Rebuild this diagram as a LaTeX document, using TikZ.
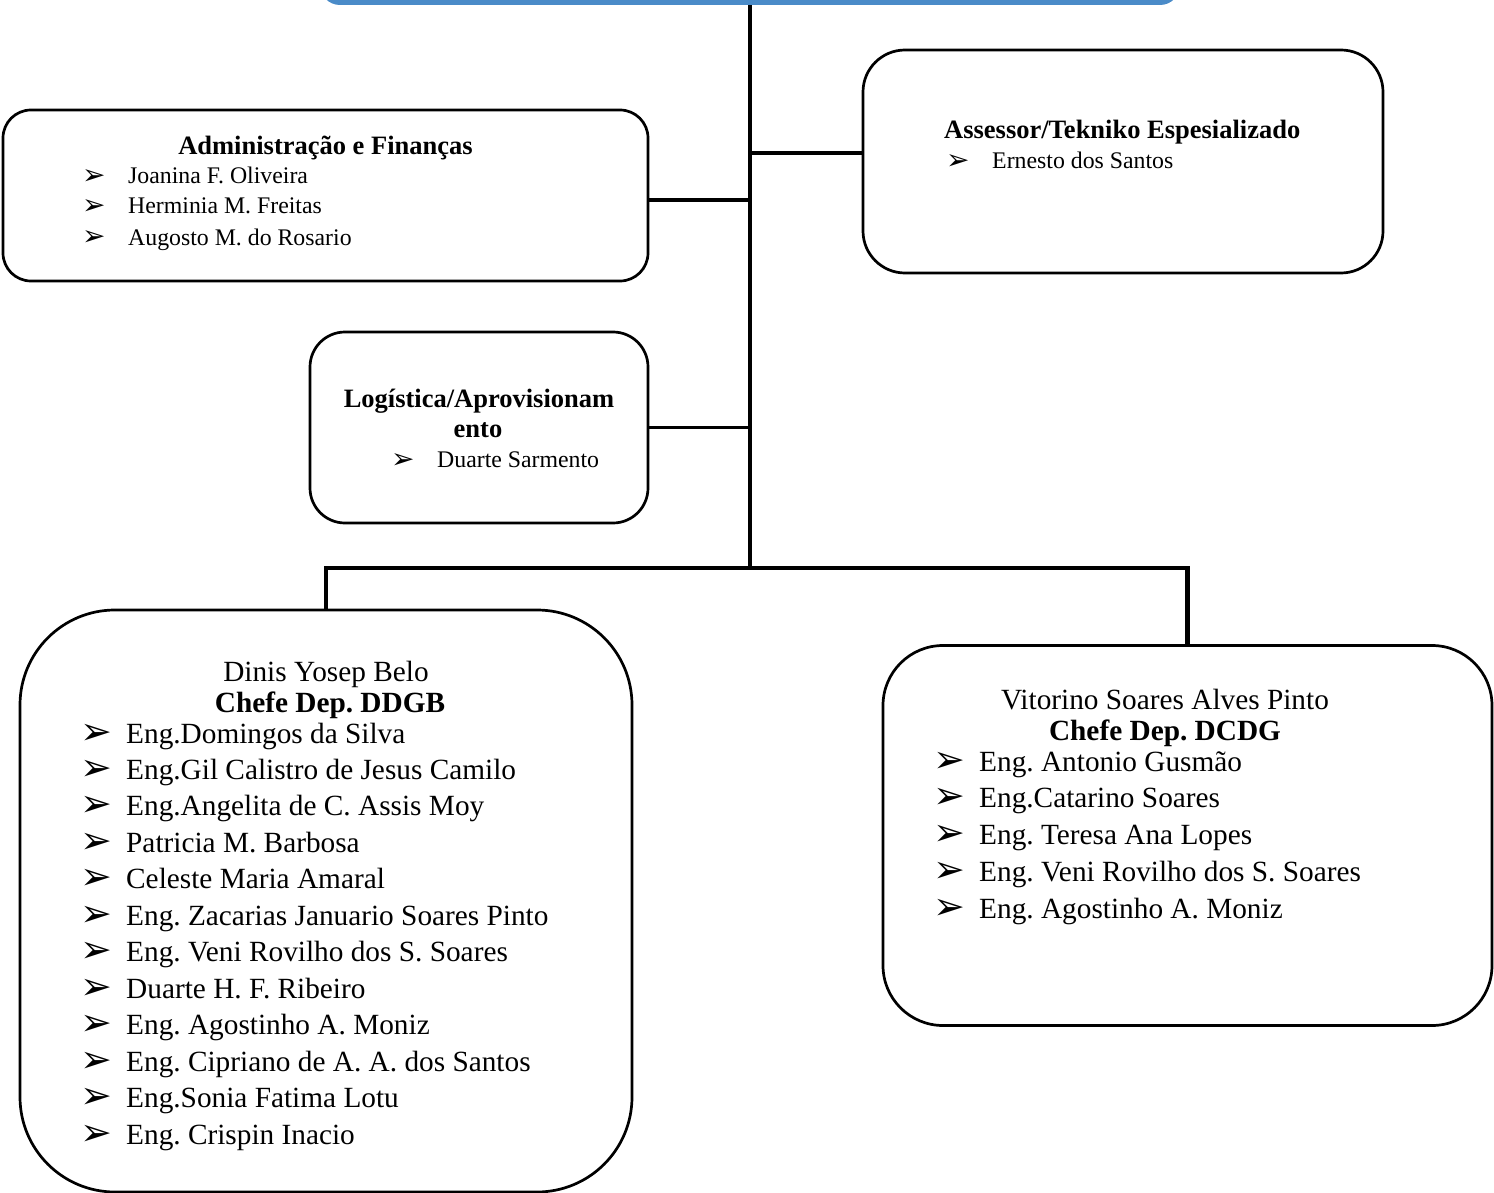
\documentclass[tikz,border=0pt]{standalone}
\usepackage{fontspec}
\setmainfont{Liberation Serif}
\newfontfamily\arrowfont{DejaVu Sans}
\usetikzlibrary{positioning}
\definecolor{dirblue}{RGB}{74,139,200}
\frenchspacing
\newcommand{\bigfont}{\fontsize{29.3}{36}\selectfont}
\newcommand{\smlfont}{\fontsize{23.8}{30}\selectfont}
\newcommand{\ttlfont}{\fontsize{26.5}{30}\selectfont\bfseries}
\newcommand{\bitem}{\makebox[46pt][l]{\raisebox{-1pt}{\arrowfont\fontsize{38}{38}\selectfont ➢}}}
\newcommand{\sitem}{\makebox[46pt][l]{\raisebox{-1pt}{\arrowfont\fontsize{28}{28}\selectfont ➢}}}

\begin{document}
\begin{tikzpicture}[x=1pt,y=-1pt,
  box/.style={draw,line width=2.7pt,rounded corners=#1,inner sep=0pt},
  box/.default=30pt,
  link/.style={line width=3.5pt},
  big/.style={anchor=base west,inner sep=0pt,font=\bigfont},
  sml/.style={anchor=base west,inner sep=0pt,font=\smlfont},
  ttl/.style={anchor=base,inner sep=0pt,font=\ttlfont}]
\useasboundingbox (0,0) rectangle (1494,1193);
\clip (0,0) rectangle (1494,1193);
\node[fill=dirblue,rounded corners=20pt,minimum width=860pt,minimum height=80pt,inner sep=0pt] (dir) at (750,-35) {};
\node[box=28pt,minimum width=645pt,minimum height=171pt] (admin) at (325.5,195.5) {};
\node[box=42pt,minimum width=520pt,minimum height=223pt] (assessor) at (1123,161.5) {};
\node[box=35pt,minimum width=338pt,minimum height=191pt] (logis) at (479,427.5) {};
\node[box=95pt,minimum width=612pt,minimum height=582pt] (ddgb) at (326,901) {};
\node[box=60pt,minimum width=609pt,minimum height=380pt] (dcdg) at (1187.5,835.5) {};
\coordinate (jAdmin) at (750,200);
\coordinate (jAss) at (750,153);
\coordinate (bus) at (750,568);
\draw[link] (dir.south) -- (bus);
\draw[link] (jAdmin) -- (admin.east |- jAdmin);
\draw[link] (jAss) -- (jAss -| assessor.west);
\draw[link] (logis.east) -- (logis.east -| bus);
\draw[link,line width=4.2pt] (ddgb.north) |- (bus) -| (dcdg.north);
\node[ttl] (adminT) at (325.5,155) {Administração e Finanças};
\node[sml] (a1) at (82,184) {\sitem Joanina F. Oliveira};
\node[sml] (a2) at (82,214) {\sitem Herminia M. Freitas};
\node[sml] (a3) at (82,245) {\sitem Augosto M. do Rosario};
\node[ttl,anchor=base west] (assT) at (944,139) {Assessor/Tekniko Espesializado};
\node[sml] (s1) at (946,169) {\sitem Ernesto dos Santos};
\node[ttl] (logT1) at (479,407) {Logística/Aprovisionam};
\node[ttl] (logT2) at (478,437) {ento};
\node[sml] (g1) at (391,467) {\sitem Duarte Sarmento};
\node[big,anchor=base] (ddgbN) at (326,681) {Dinis Yosep Belo};
\node[big,anchor=base] (ddgbT) at (330,712) {\bfseries Chefe Dep. DDGB};
\node[big] (d1) at (80,743) {\bitem Eng.Domingos da Silva};
\node[big] (d2) at (80,779.5) {\bitem Eng.Gil Calistro de Jesus Camilo};
\node[big] (d3) at (80,815.9) {\bitem Eng.Angelita de C. Assis Moy};
\node[big] (d4) at (80,852.4) {\bitem Patricia M. Barbosa};
\node[big] (d5) at (80,888.8) {\bitem Celeste Maria Amaral};
\node[big] (d6) at (80,925.3) {\bitem Eng. Zacarias Januario Soares Pinto};
\node[big] (d7) at (80,961.7) {\bitem Eng. Veni Rovilho dos S. Soares};
\node[big] (d8) at (80,998.2) {\bitem Duarte H. F. Ribeiro};
\node[big] (d9) at (80,1034.6) {\bitem Eng. Agostinho A. Moniz};
\node[big] (d10) at (80,1071.1) {\bitem Eng. Cipriano de A. A. dos Santos};
\node[big] (d11) at (80,1107.5) {\bitem Eng.Sonia Fatima Lotu};
\node[big] (d12) at (80,1144) {\bitem Eng. Crispin Inacio};
\node[big,anchor=base] (dcdgN) at (1165,709) {Vitorino Soares Alves Pinto};
\node[big,anchor=base] (dcdgT) at (1165,740) {\bfseries Chefe Dep. DCDG};
\node[big] (c1) at (933,771) {\bitem Eng. Antonio Gusmão};
\node[big] (c2) at (933,807.8) {\bitem Eng.Catarino Soares};
\node[big] (c3) at (933,844.6) {\bitem Eng. Teresa Ana Lopes};
\node[big] (c4) at (933,881.4) {\bitem Eng. Veni Rovilho dos S. Soares};
\node[big] (c5) at (933,918.2) {\bitem Eng. Agostinho A. Moniz};
\end{tikzpicture}
\end{document}
